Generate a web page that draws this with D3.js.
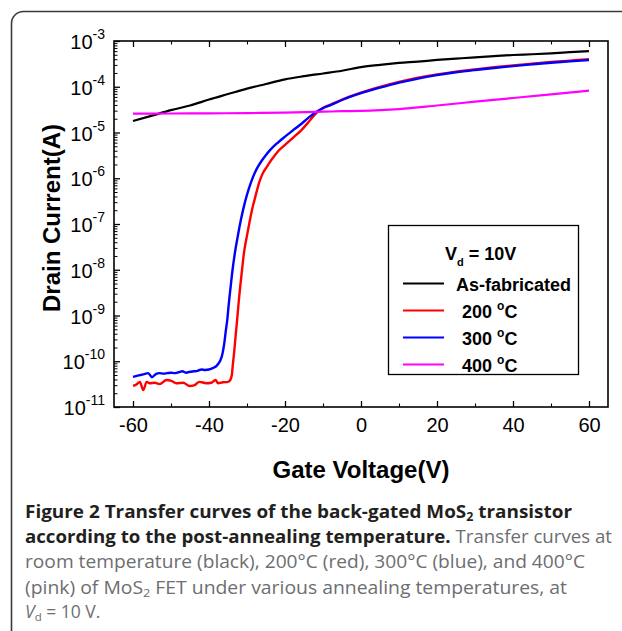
<!DOCTYPE html>
<html>
<head>
<meta charset="utf-8">
<script src="https://cdn.jsdelivr.net/npm/d3@7"></script>
<style>
  html, body { margin: 0; padding: 0; background: #fff; }
  svg { display: block; }
</style>
</head>
<body>
<script>
// ---------------- DATA ----------------
const xTicks = [-60, -40, -20, 0, 20, 40, 60];
const xMinorTicks = [-50, -30, -10, 10, 30, 50];
const yDecades = [-11, -10, -9, -8, -7, -6, -5, -4, -3];

const seriesNames = ["As-fabricated", "200", "300", "400"];
const seriesColors = ["#000000", "#ff0000", "#0000ff", "#ff00ff"];

// As-fabricated (black)
const vgAsFab = [-60,-55,-50,-45,-40,-35,-30,-25,-20,-15,-10,-5,0,5,10,15,20,25,30,35,40,45,50,55,60];
const idAsFab = [1.78e-5,2.34e-5,3.09e-5,3.89e-5,5.25e-5,6.92e-5,9.12e-5,1.15e-4,1.45e-4,1.70e-4,1.95e-4,2.24e-4,2.69e-4,3.02e-4,3.31e-4,3.55e-4,3.85e-4,4.12e-4,4.40e-4,4.68e-4,4.94e-4,5.13e-4,5.37e-4,5.69e-4,6.03e-4];

// 200 °C (red)
const vg200 = [-60,-59,-58.2,-57.3,-56.4,-55.6,-54.3,-53,-51.2,-49.9,-48.6,-46.8,-45.1,-43.8,-42.5,-40.7,-39.4,-38.3,-37.6,-36.3,-35,-34.4,
  -34.0,-33.7,-33.4,-33.0,-32.6,-32.2,-31.8,-31.3,-30.8,-30.2,-29.7,-28.7,-27.7,-26.7,-25.7,-24.7,-23.7,-22.7,-21.7,-19.7,-17.7,-15.8,-13.4,-11.6,
  -10,-8,-5,0,5,10,15,20,25,30,35,40,45,50,55,60];
const id200 = [2.88e-11,3.16e-11,3.55e-11,2.34e-11,3.55e-11,3.31e-11,3.39e-11,3.16e-11,3.89e-11,3.72e-11,3.31e-11,3.39e-11,2.88e-11,3.02e-11,3.55e-11,3.31e-11,3.39e-11,3.89e-11,3.31e-11,3.47e-11,3.55e-11,3.89e-11,
  5.01e-11,8.91e-11,1.51e-10,3.55e-10,7.94e-10,1.91e-9,4.17e-9,1.0e-8,2.34e-8,4.57e-8,7.59e-8,2.00e-7,4.27e-7,8.51e-7,1.35e-6,1.82e-6,2.45e-6,3.16e-6,3.98e-6,5.62e-6,7.94e-6,1.10e-5,1.86e-5,2.75e-5,
  3.47e-5,4.07e-5,5.25e-5,7.41e-5,9.89e-5,1.27e-4,1.57e-4,1.86e-4,2.14e-4,2.40e-4,2.66e-4,2.93e-4,3.20e-4,3.47e-4,3.72e-4,3.98e-4];

// 300 °C (blue)
const vg300 = [-60,-59,-58,-57,-56,-55,-54,-53,-52,-51,-50,-49,-48,-47,-46,-45,-44,-43,-42,-41,-40,-39,-38,-37.5,-37,-36.5,-36,-35.6,-35.2,-34.8,
  -34.3,-33.8,-33.2,-32.5,-32,-31,-30,-29,-28,-27,-26,-25,-24,-22,-20,-18,-16,-14,-12,-10,-8,-5,0,5,10,15,20,25,30,35,40,45,50,55,60];
const id300 = [4.57e-11,4.79e-11,5.01e-11,5.25e-11,5.50e-11,4.47e-11,5.25e-11,5.50e-11,5.37e-11,5.50e-11,5.62e-11,5.50e-11,5.75e-11,6.03e-11,5.62e-11,5.89e-11,6.03e-11,6.17e-11,6.61e-11,6.46e-11,6.61e-11,7.08e-11,7.94e-11,8.91e-11,1.05e-10,1.41e-10,2.40e-10,4.47e-10,7.94e-10,1.78e-9,
  4.27e-9,1.00e-8,2.29e-8,5.01e-8,8.51e-8,2.09e-7,4.37e-7,7.94e-7,1.29e-6,1.86e-6,2.51e-6,3.24e-6,4.07e-6,5.89e-6,8.13e-6,1.10e-5,1.48e-5,2.04e-5,2.75e-5,3.39e-5,3.98e-5,5.13e-5,7.24e-5,9.55e-5,1.23e-4,1.51e-4,1.80e-4,2.07e-4,2.32e-4,2.57e-4,2.83e-4,3.09e-4,3.35e-4,3.59e-4,3.85e-4];

// 400 °C (magenta)
const vg400 = [-60,-50,-40,-30,-20,-10,-5,0,5,10,20,30,40,50,60];
const id400 = [2.58e-5,2.60e-5,2.62e-5,2.66e-5,2.72e-5,2.85e-5,2.92e-5,2.97e-5,3.08e-5,3.25e-5,3.89e-5,4.71e-5,5.68e-5,6.84e-5,8.20e-5];

// ---------------- CHART ----------------
const W = 622, H = 631;
const plot = { left: 114, top: 41, right: 608, bottom: 407 };
const font = "'Liberation Sans', Arial, Helvetica, sans-serif";

const svg = d3.select("body").append("svg").attr("width", W).attr("height", H)
  .style("font-family", font);

svg.append("rect").attr("width", W).attr("height", H).attr("fill", "#fff");

// outer figure frame (rounded, cut off at right/bottom)
svg.append("rect")
  .attr("x", 11.5).attr("y", 11.5).attr("width", 800).attr("height", 800)
  .attr("rx", 12).attr("ry", 12)
  .attr("fill", "none").attr("stroke", "#3a3a3a").attr("stroke-width", 1.6);

const x = d3.scaleLinear().domain([-65, 65]).range([plot.left, plot.right]);
const y = d3.scaleLog().domain([1e-11, 1e-3]).range([plot.bottom, plot.top]);

// minor log ticks
const yMinor = [];
yDecades.slice(0, -1).forEach(e => { for (let k = 2; k <= 9; k++) yMinor.push(k * Math.pow(10, e)); });

const axesG = svg.append("g");

// left axis (major, inward)
const leftAx = axesG.append("g").attr("transform", `translate(${plot.left},0)`)
  .call(d3.axisLeft(y).tickValues(yDecades.map(e => Math.pow(10, e))).tickSize(-6).tickPadding(9)
    .tickFormat(d => String(Math.round(Math.log10(d)))));
leftAx.select(".domain").remove();
leftAx.selectAll(".tick line").attr("stroke", "#000").attr("stroke-width", 1.3);
leftAx.selectAll(".tick text").each(function(d) {
  const t = d3.select(this);
  const e = Math.round(Math.log10(d));
  t.text(null).attr("dy", null).attr("y", 7.5)
    .attr("font-size", 20).attr("fill", "#000").attr("font-family", font);
  t.append("tspan").text("10");
  t.append("tspan").attr("dy", -10).attr("font-size", 14).text(String(e));
});
// left minor ticks
const leftMinor = axesG.append("g").attr("transform", `translate(${plot.left},0)`)
  .call(d3.axisLeft(y).tickValues(yMinor).tickSize(-3.5).tickFormat(""));
leftMinor.select(".domain").remove();
leftMinor.selectAll(".tick line").attr("stroke", "#000").attr("stroke-width", 1);

// bottom axis
const botAx = axesG.append("g").attr("transform", `translate(0,${plot.bottom})`)
  .call(d3.axisBottom(x).tickValues(xTicks).tickSize(-6).tickPadding(11).tickFormat(d3.format("d")));
botAx.select(".domain").remove();
botAx.selectAll(".tick line").attr("stroke", "#000").attr("stroke-width", 1.3);
botAx.selectAll(".tick text").attr("font-size", 20).attr("fill", "#000").attr("font-family", font)
  .text(d => (d < 0 ? "-" + Math.abs(d) : String(d)));
const botMinor = axesG.append("g").attr("transform", `translate(0,${plot.bottom})`)
  .call(d3.axisBottom(x).tickValues(xMinorTicks).tickSize(-3.5).tickFormat(""));
botMinor.select(".domain").remove();
botMinor.selectAll(".tick line").attr("stroke", "#000").attr("stroke-width", 1.1);

// top axis (ticks only)
const topAx = axesG.append("g").attr("transform", `translate(0,${plot.top})`)
  .call(d3.axisTop(x).tickValues(xTicks).tickSize(-6).tickFormat(""));
topAx.select(".domain").remove();
topAx.selectAll(".tick line").attr("stroke", "#000").attr("stroke-width", 1.3);
const topMinor = axesG.append("g").attr("transform", `translate(0,${plot.top})`)
  .call(d3.axisTop(x).tickValues(xMinorTicks).tickSize(-3.5).tickFormat(""));
topMinor.select(".domain").remove();
topMinor.selectAll(".tick line").attr("stroke", "#000").attr("stroke-width", 1.1);

// curves
svg.append("clipPath").attr("id", "clip").append("rect")
  .attr("x", plot.left).attr("y", plot.top).attr("width", plot.right - plot.left).attr("height", plot.bottom - plot.top);
const line = d3.line().x(d => x(d[0])).y(d => y(d[1])).curve(d3.curveMonotoneX);
const series = [
  { v: vgAsFab, i: idAsFab, w: 2.2 },
  { v: vg200, i: id200, w: 2.4 },
  { v: vg300, i: id300, w: 2.4 },
  { v: vg400, i: id400, w: 2.2 }
];
const curvesG = svg.append("g").attr("clip-path", "url(#clip)");
series.forEach((s, k) => {
  curvesG.append("path")
    .datum(d3.zip(s.v, s.i))
    .attr("fill", "none").attr("stroke", seriesColors[k]).attr("stroke-width", s.w)
    .attr("stroke-linejoin", "round")
    .attr("d", line);
});

// plot frame
svg.append("rect")
  .attr("x", plot.left).attr("y", plot.top)
  .attr("width", plot.right - plot.left).attr("height", plot.bottom - plot.top)
  .attr("fill", "none").attr("stroke", "#000").attr("stroke-width", 1.6);

// axis titles
svg.append("text")
  .attr("transform", `translate(60,${(plot.top + plot.bottom) / 2 - 6}) rotate(-90)`)
  .attr("text-anchor", "middle").attr("font-size", 24).attr("font-weight", "bold").attr("fill", "#000")
  .text("Drain Current(A)");
svg.append("text")
  .attr("x", (plot.left + plot.right) / 2).attr("y", 478)
  .attr("text-anchor", "middle").attr("font-size", 24).attr("font-weight", "bold").attr("fill", "#000")
  .text("Gate Voltage(V)");

// legend
const lg = svg.append("g");
lg.append("rect").attr("x", 388.5).attr("y", 225.5).attr("width", 190).attr("height", 149)
  .attr("fill", "#fff").attr("stroke", "#000").attr("stroke-width", 1.3);
const lt = lg.append("text").attr("x", 445).attr("y", 260).attr("font-size", 18).attr("font-weight", "bold");
lt.append("tspan").text("V");
lt.append("tspan").attr("dy", 6).attr("font-size", 11).text("d");
lt.append("tspan").attr("dy", -6).text(" = 10V");
seriesNames.forEach((name, k) => {
  const yy = 283.5 + k * 27;
  lg.append("line").attr("x1", 403).attr("x2", 444).attr("y1", yy).attr("y2", yy)
    .attr("stroke", seriesColors[k]).attr("stroke-width", 2.2);
  const t = lg.append("text").attr("font-size", 18).attr("font-weight", "bold").attr("y", yy + 7.5);
  if (k === 0) {
    t.attr("x", 456).text(name);
  } else {
    t.attr("x", 462);
    t.append("tspan").text(name + " ");
    t.append("tspan").attr("dy", -8).attr("font-size", 12).text("o");
    t.append("tspan").attr("dy", 8).text("C");
  }
});

// caption
const capFont = "'Open Sans', 'Noto Sans', sans-serif";
const boldCol = "#231f20", regCol = "#6d6e71";
const cap = svg.append("g").attr("font-family", capFont).attr("font-size", 17.5);
function capLine(yb, len, parts) {
  const t = cap.append("text").attr("x", 25).attr("y", yb);
  if (len) t.attr("textLength", len).attr("lengthAdjust", "spacingAndGlyphs");
  parts.forEach(p => {
    const s = t.append("tspan").text(p.t)
      .attr("font-weight", p.b ? "bold" : "normal")
      .attr("fill", p.b ? boldCol : regCol);
    if (p.sub) s.attr("font-size", 11.5).attr("dy", 3);
    if (p.up) s.attr("dy", -3);
    if (p.i) s.attr("font-style", "italic");
  });
  return t;
}
capLine(518, 547, [
  { t: "Figure 2 Transfer curves of the back-gated MoS", b: true },
  { t: "2", b: true, sub: true },
  { t: " transistor", b: true, up: true }
]);
capLine(543, 587, [
  { t: "according to the post-annealing temperature.", b: true },
  { t: " Transfer curves at" }
]);
capLine(568, 560, [
  { t: "room temperature (black), 200°C (red), 300°C (blue), and 400°C" }
]);
capLine(594, 542, [
  { t: "(pink) of MoS" },
  { t: "2", sub: true },
  { t: " FET under various annealing temperatures, at", up: true }
]);
capLine(618, null, [
  { t: "V", i: true },
  { t: "d", sub: true },
  { t: " = 10 V.", up: true }
]);
</script>
</body>
</html>
